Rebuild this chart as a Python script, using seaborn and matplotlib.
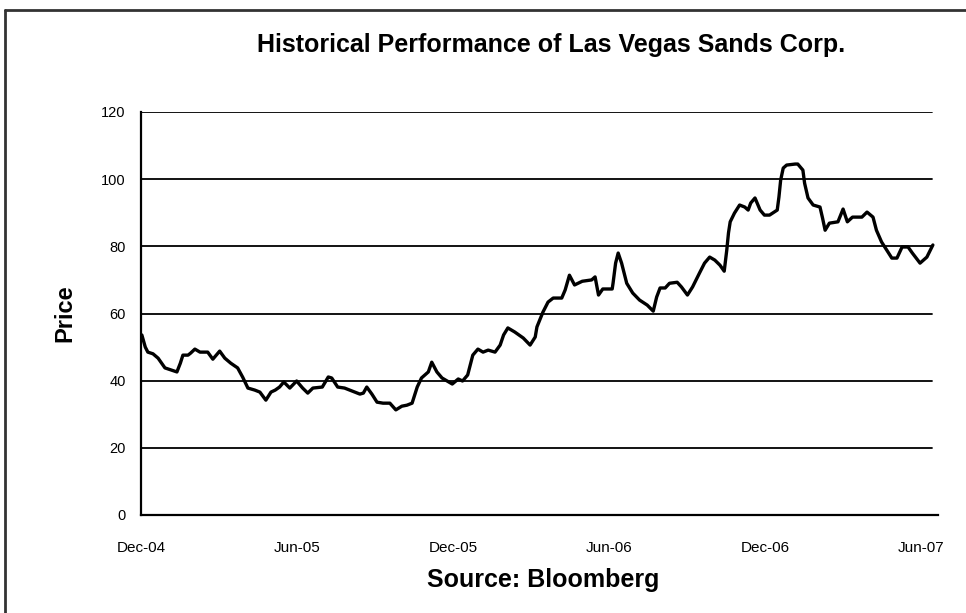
import matplotlib
matplotlib.use("Agg")
import matplotlib.pyplot as plt
import matplotlib.dates as mdates
from matplotlib.lines import Line2D
import pandas as pd
import seaborn as sns

dates = [
    "2004-12-02", "2004-12-06", "2004-12-09", "2004-12-15", "2004-12-21", "2004-12-29",
    "2005-01-05", "2005-01-12", "2005-01-16", "2005-01-19", "2005-01-25", "2005-01-28",
    "2005-02-02", "2005-02-08", "2005-02-17", "2005-02-23", "2005-02-27", "2005-03-03",
    "2005-03-09", "2005-03-16", "2005-03-24", "2005-03-30", "2005-04-05", "2005-04-13",
    "2005-04-19", "2005-04-26", "2005-05-02", "2005-05-07", "2005-05-12", "2005-05-17",
    "2005-05-24", "2005-06-01", "2005-06-08", "2005-06-14", "2005-06-20", "2005-07-01",
    "2005-07-08", "2005-07-12", "2005-07-19", "2005-07-27", "2005-08-05", "2005-08-14",
    "2005-08-18", "2005-08-22", "2005-08-28", "2005-09-03", "2005-09-10", "2005-09-18",
    "2005-09-25", "2005-10-02", "2005-10-08", "2005-10-14", "2005-10-20", "2005-10-25",
    "2005-11-02", "2005-11-06", "2005-11-12", "2005-11-18", "2005-11-24", "2005-11-30",
    "2005-12-07", "2005-12-12", "2005-12-18", "2005-12-24", "2005-12-30", "2006-01-05",
    "2006-01-11", "2006-01-19", "2006-01-25", "2006-01-29", "2006-02-03", "2006-02-11",
    "2006-02-21", "2006-03-01", "2006-03-07", "2006-03-09", "2006-03-16", "2006-03-22",
    "2006-03-28", "2006-04-07", "2006-04-11", "2006-04-16", "2006-04-22", "2006-05-01",
    "2006-05-12", "2006-05-16", "2006-05-20", "2006-05-25", "2006-06-05", "2006-06-06",
    "2006-06-09", "2006-06-12", "2006-06-16", "2006-06-22", "2006-06-29", "2006-07-07",
    "2006-07-16", "2006-07-23", "2006-07-27", "2006-07-31", "2006-08-06", "2006-08-11",
    "2006-08-20", "2006-08-25", "2006-09-01", "2006-09-07", "2006-09-15", "2006-09-21",
    "2006-09-27", "2006-10-03", "2006-10-09", "2006-10-14", "2006-10-17", "2006-10-19",
    "2006-10-21", "2006-10-26", "2006-11-01", "2006-11-07", "2006-11-11", "2006-11-14",
    "2006-11-19", "2006-11-25", "2006-11-30", "2006-12-06", "2006-12-15", "2006-12-17",
    "2006-12-19", "2006-12-22", "2006-12-26", "2007-01-05", "2007-01-08", "2007-01-14",
    "2007-01-16", "2007-01-20", "2007-01-26", "2007-02-03", "2007-02-06", "2007-02-09",
    "2007-02-14", "2007-02-24", "2007-03-02", "2007-03-07", "2007-03-13", "2007-03-24",
    "2007-03-30", "2007-04-06", "2007-04-10", "2007-04-16", "2007-04-22", "2007-04-28",
    "2007-05-04", "2007-05-10", "2007-05-17", "2007-05-22", "2007-05-31", "2007-06-08",
    "2007-06-15",
]

prices = [
    53.6, 50.0, 48.5, 48.0, 46.7, 43.8,
    43.2, 42.6, 45.2, 47.6, 47.6, 48.2,
    49.4, 48.5, 48.5, 46.4, 47.6, 48.8,
    46.7, 45.2, 43.8, 41.0, 37.8, 37.2,
    36.6, 34.2, 36.6, 37.2, 38.1, 39.6,
    37.8, 39.9, 37.8, 36.3, 37.8, 38.1,
    41.1, 40.8, 38.1, 37.8, 36.9, 36.0,
    36.3, 38.1, 36.0, 33.6, 33.3, 33.3,
    31.3, 32.4, 32.7, 33.3, 38.1, 40.8,
    42.6, 45.5, 42.6, 40.8, 39.9, 39.0,
    40.5, 39.9, 41.7, 47.6, 49.4, 48.5,
    49.1, 48.5, 50.6, 53.6, 55.7, 54.5,
    52.7, 50.6, 53.0, 56.0, 60.4, 63.4,
    64.6, 64.6, 67.0, 71.4, 68.5, 69.6,
    70.0, 70.9, 65.5, 67.3, 67.3, 69.0,
    75.0, 78.0, 75.0, 69.0, 66.1, 64.0,
    62.5, 60.7, 64.9, 67.6, 67.6, 69.0,
    69.3, 67.9, 65.5, 67.9, 72.0, 75.0,
    76.8, 75.9, 74.4, 72.6, 78.9, 84.0,
    87.3, 89.9, 92.3, 91.7, 90.8, 92.9,
    94.4, 90.8, 89.3, 89.3, 90.8, 94.7,
    99.7, 103.3, 104.2, 104.5, 104.5, 102.7,
    98.8, 94.4, 92.3, 91.7, 88.4, 84.8,
    86.9, 87.3, 91.1, 87.3, 88.7, 88.7,
    90.2, 88.7, 84.8, 81.3, 78.9, 76.5,
    76.5, 79.8, 79.8, 78.0, 75.0, 76.8,
    80.4,
]

tick_dates = ["2004-12-01", "2005-06-01", "2005-12-01", "2006-06-01", "2006-12-01", "2007-06-01"]
y_ticks = [0, 20, 40, 60, 80, 100, 120]

df = pd.DataFrame({"Date": pd.to_datetime(dates), "Price": prices})

sns.set_style("white")
plt.rcParams["font.family"] = ["Liberation Sans", "DejaVu Sans"]
plt.rcParams["text.color"] = "black"
plt.rcParams["axes.labelcolor"] = "black"
plt.rcParams["xtick.color"] = "black"
plt.rcParams["ytick.color"] = "black"

fig = plt.figure(figsize=(9.66, 6.13), dpi=100)
ax = fig.add_axes([141 / 966, 1 - 515 / 613, (938 - 141) / 966, (515 - 112) / 613])

for v in y_ticks[1:]:
    ax.axhline(v, xmax=0.993, color="black", lw=1.3, zorder=1)

sns.lineplot(data=df, x="Date", y="Price", ax=ax, color="black", lw=2.4, zorder=3)

ax.set_xlim(pd.Timestamp("2004-12-01"), pd.Timestamp("2007-06-21"))
ax.set_ylim(0, 120)
ax.set_yticks(y_ticks)
ax.set_xticks(pd.to_datetime(tick_dates))
ax.xaxis.set_major_formatter(mdates.DateFormatter("%b-%y"))

for s in ["top", "right"]:
    ax.spines[s].set_visible(False)
for s in ["left", "bottom"]:
    ax.spines[s].set_color("black")
    ax.spines[s].set_linewidth(1.6)

ax.tick_params(axis="both", direction="out", length=5, width=1.2, color="black",
               labelcolor="black")
ax.tick_params(axis="x", pad=14, labelsize=11)
ax.tick_params(axis="y", pad=6, labelsize=10.5)

ax.set_xlabel("Source: Bloomberg", fontsize=18, fontweight="bold")
ax.set_ylabel("Price", fontsize=17, fontweight="bold")
ax.xaxis.label.set_va("center")
ax.yaxis.label.set_va("center")
ax.xaxis.set_label_coords(0.5046, (515 - 580) / 403)
ax.yaxis.set_label_coords((65 - 141) / 797, 0.501)

fig.text(551 / 966, 1 - 45 / 613, "Historical Performance of Las Vegas Sands Corp.",
         ha="center", va="center", fontsize=18, fontweight="bold")

# outer frame (top and left edges visible in the reference)
fig.add_artist(Line2D([5 / 966, 5 / 966], [0, 1 - 10 / 613], transform=fig.transFigure,
                      color="#333333", lw=2))
fig.add_artist(Line2D([5 / 966, 1], [1 - 10 / 613, 1 - 10 / 613], transform=fig.transFigure,
                      color="#333333", lw=2))

fig.savefig("out.png", dpi=100)
